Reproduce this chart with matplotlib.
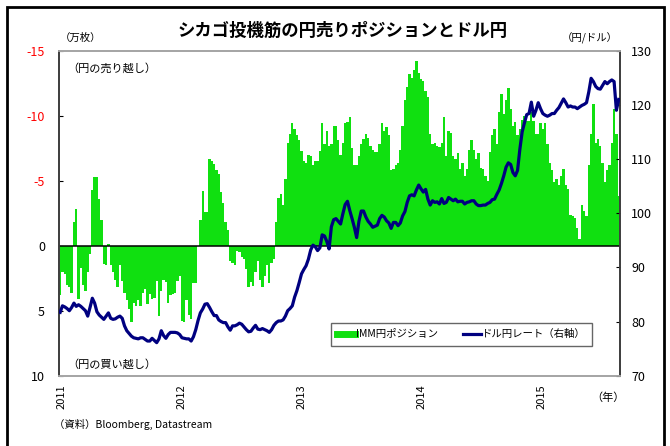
import matplotlib
matplotlib.use("Agg")
import matplotlib.pyplot as plt
import matplotlib.dates as mdates
from matplotlib.lines import Line2D
from matplotlib.patches import Rectangle
import pandas as pd

plt.rcParams['font.family'] = ['Noto Sans CJK JP', 'DejaVu Sans']

# ---- data (weekly) ---------------------------------------------------------
START = "2010-12-28"

# IMM net yen position, 万枚 (negative = net short yen, drawn upward)
imm_pos = [
    3.8, 2.0, 2.2, 3.0, 3.2, 3.6, -1.8, -2.8, 4.1, 1.7,
    3.0, 3.5, 2.0, 0.6, -4.3, -5.3, -5.3, -3.6, -2.0, 1.4,
    1.5, -0.1, 1.5, 2.0, 2.6, 3.2, 1.5, 2.7, 3.6, 4.2,
    4.9, 5.9, 4.4, 4.6, 4.2, 4.6, 3.6, 3.3, 4.5, 3.7,
    4.1, 4.0, 2.7, 5.4, 3.5, 2.6, 2.8, 4.4, 3.8, 3.7,
    3.6, 2.7, 2.3, 5.8, 5.9, 4.2, 5.3, 5.6, 2.9, 2.9,
    0.0, -2.0,
    -4.2, -2.6, -2.6, -6.7, -6.5, -6.3, -5.8, -5.5, -4.1, -3.3,
    -1.8, -1.2, 1.2, 1.3, 1.5, 0.4, 0.5, 0.9, 1.0, 1.8,
    3.2, 2.8, 3.1, 2.0, 1.2, 2.6, 3.2, 2.3, 1.5, 2.9,
    1.3, 1.0, -1.8, -3.7, -4.0, -3.1, -5.1, -7.9, -8.6, -9.4,
    -9.0, -8.5, -8.1, -7.3, -6.5, -6.4, -7.0, -6.9, -6.2, -6.5,
    -6.5, -7.3, -9.4, -7.8, -8.8, -7.7, -7.8, -9.2, -9.2, -8.1,
    -7.0,
    -7.9, -9.4, -9.5, -9.9, -7.5, -6.2, -6.2, -6.9, -7.8, -8.2,
    -8.6, -8.3, -7.7, -7.4, -7.2, -7.2, -7.8, -9.4, -8.8, -9.1,
    -8.5, -5.8, -5.9, -6.2, -6.4, -7.4, -9.2, -11.2, -12.2, -13.2,
    -12.9, -13.5, -14.2, -13.3, -12.8, -12.7, -11.9, -11.4, -8.6, -7.8,
    -7.9, -7.7, -7.6, -7.9, -9.9, -6.9, -8.8, -8.7, -6.9, -6.7,
    -7.1, -5.9, -6.4, -5.4, -5.9, -7.4, -8.1, -7.4, -6.7, -7.1,
    -6.0,
    -5.9, -5.4, -5.0, -7.2, -8.5, -9.0, -7.8, -10.3, -11.7, -10.1,
    -11.2, -12.1, -10.5, -9.2, -9.5, -8.5, -9.0, -9.7, -10.0, -9.6,
    -9.6, -10.3, -9.6, -8.6, -8.6, -9.4, -9.0, -9.4, -7.8, -6.4,
    -5.8, -4.9, -5.1, -4.7, -5.4, -5.9, -4.7, -4.4, -2.4, -2.3,
    -2.1, -1.4, -0.5, -3.1, -2.7, -2.3, -6.2, -8.6, -10.9, -7.9,
    -8.2, -7.7, -6.4, -4.9, -5.8, -6.2, -7.9, -10.5, -8.6, -3.8,
]

# USD/JPY, 円/ドル (right axis)
usdjpy = [
    81.7, 82.9, 82.7, 82.4, 82.0, 82.6, 83.4, 82.8, 83.1, 82.8,
    82.4, 82.0, 81.0, 82.6, 84.3, 83.4, 81.8, 81.2, 80.8, 80.4,
    81.0, 81.6, 80.6, 80.4, 80.5, 80.8, 81.0, 80.6, 79.2, 78.3,
    77.8, 77.3, 77.0, 76.9, 76.8, 77.0, 77.0, 76.7, 76.4, 76.4,
    76.9, 76.5, 76.1, 76.8, 78.3, 77.4, 76.9, 77.6, 78.0, 78.0,
    78.0, 77.9, 77.6, 77.0, 76.9, 76.8, 76.8, 76.4, 77.2, 78.5,
    80.2, 81.6,
    82.3, 83.2, 83.3, 82.6, 81.8, 81.1, 81.1, 80.3, 80.0, 79.8,
    79.8, 79.0, 78.4, 79.2, 79.2, 79.4, 79.7, 79.5, 79.0, 78.5,
    78.1, 78.2, 78.8, 79.3, 78.6, 78.5, 78.7, 78.5, 78.3, 78.0,
    78.5, 79.3, 79.8, 80.1, 80.1, 80.3, 81.0, 82.0, 82.4, 82.9,
    84.5, 85.7, 87.2, 88.8, 89.6, 90.3, 91.5, 93.2, 94.1, 93.8,
    93.1, 93.6, 96.0, 95.8, 94.8, 93.4, 97.5, 98.8, 99.0, 98.5,
    98.0,
    99.9, 101.6, 102.2, 100.5, 99.0, 97.4, 95.5, 98.5, 100.4, 100.4,
    99.3, 98.5, 98.0, 97.4, 97.6, 97.8, 99.0, 99.6, 99.3, 98.6,
    98.2, 97.2, 98.3, 98.3, 97.7, 98.2, 99.5, 100.3, 102.0, 103.2,
    103.4, 103.2, 104.3, 105.2, 104.5, 103.9, 104.4, 102.6, 101.5, 102.3,
    102.0, 102.1, 101.7, 102.7, 101.8, 102.0, 102.9, 102.6, 102.3, 102.6,
    102.1, 102.2, 102.2, 101.7, 102.0, 102.1, 102.3, 102.3, 101.7, 101.4,
    101.4,
    101.5, 101.5, 101.8, 102.0, 102.5, 102.6, 103.5, 104.3, 105.5, 106.9,
    108.5, 109.3, 109.0, 107.5, 106.9, 107.9, 111.8, 115.0, 116.7, 118.2,
    118.4, 120.5, 117.9, 119.0, 120.4, 119.3, 118.4, 118.1, 117.9, 118.1,
    118.4, 118.4, 119.0, 119.5, 120.3, 121.1, 120.4, 119.6, 119.8, 119.6,
    119.6, 119.3, 119.6, 119.9, 120.1, 120.4, 122.4, 124.9, 124.3, 123.4,
    123.0, 122.9, 123.6, 124.3, 123.9, 124.3, 124.6, 124.3, 119.0, 121.0,
]

pos_ticks = [-15, -10, -5, 0, 5, 10]
pos_tick_labels = ["-15", "-10", "-5", "0", "5", "10"]
fx_ticks = [70, 80, 90, 100, 110, 120, 130]

GREEN = "#10e010"
NAVY = "#000080"

dates = pd.date_range(START, periods=len(imm_pos), freq="7D")

# ---- figure -----------------------------------------------------------------
W, H = 670, 446
fig = plt.figure(figsize=(W / 100, H / 100), dpi=100)

def fx(px):
    return px / W

def fy(py):
    return 1 - py / H

ax = fig.add_axes([fx(59), fy(375.7), fx(561), 325 / H])
ax.bar(dates, imm_pos, width=7, color=GREEN, linewidth=0, zorder=2)
ax.axhline(0, color="black", lw=1.1, zorder=3)
ax.set_ylim(10, -15)
ax.set_yticks(pos_ticks)
ax.set_yticklabels(pos_tick_labels)
for t, v in zip(ax.get_yticklabels(), pos_ticks):
    t.set_color("red" if v < 0 else "black")
ax.set_xlim(pd.Timestamp("2010-12-24 12:00"), pd.Timestamp("2015-08-29"))
ax.xaxis.set_major_locator(mdates.YearLocator())
ax.xaxis.set_major_formatter(mdates.DateFormatter("%Y"))
ax.tick_params(axis="x", length=0, labelrotation=90, pad=6, labelsize=8)
ax.tick_params(axis="y", direction="in", length=3, pad=10, labelsize=9)

ax2 = ax.twinx()
ax2.plot(dates, usdjpy, color=NAVY, lw=2.3, zorder=4)
ax2.set_ylim(70, 130)
ax2.set_yticks(fx_ticks)
ax2.tick_params(axis="y", direction="in", length=3, pad=8, labelsize=9)

for a in (ax, ax2):
    a.spines["top"].set_color("#a6a6a6")
    a.spines["bottom"].set_color("#a6a6a6")
    a.spines["left"].set_color("#404040")
    a.spines["right"].set_color("#404040")
    for s in a.spines.values():
        s.set_linewidth(1.3)

ax.text(0.015, 0.945, "（円の売り越し）", transform=ax.transAxes, fontsize=8, va="center")
ax.text(0.015, 0.035, "（円の買い越し）", transform=ax.transAxes, fontsize=8, va="center")

handles = [Line2D([], [], color=GREEN, lw=5), Line2D([], [], color=NAVY, lw=2.3)]
leg = ax2.legend(handles, ["IMM円ポジション", "ドル円レート（右軸）"], ncol=2,
                 loc="center", bbox_to_anchor=(0.476, 0.085, 0.483, 0.085),
                 mode="expand", fontsize=7.5, handlelength=1.7, handletextpad=0.1,
                 columnspacing=1.5, fancybox=False, borderpad=0.6)
leg.get_frame().set_edgecolor("#404040")
leg.get_frame().set_linewidth(1.0)

fig.text(fx(343), fy(31), "シカゴ投機筋の円売りポジションとドル円",
         ha="center", va="center", fontsize=12.5, fontweight="bold")
fig.text(fx(60), fy(38), "（万枚）", ha="left", va="center", fontsize=7.5)
fig.text(fx(618), fy(38), "（円/ドル）", ha="right", va="center", fontsize=7.5)
fig.text(fx(608), fy(398), "（年）", ha="center", va="center", fontsize=8)
fig.text(fx(54), fy(424), "（資料）Bloomberg, Datastream", ha="left", va="center", fontsize=7.5)

fig.patches.append(Rectangle((fx(7), -0.02), fx(657), fy(7) + 0.02,
                             transform=fig.transFigure, fill=False,
                             edgecolor="black", lw=2))

fig.savefig("out.png", dpi=100)
